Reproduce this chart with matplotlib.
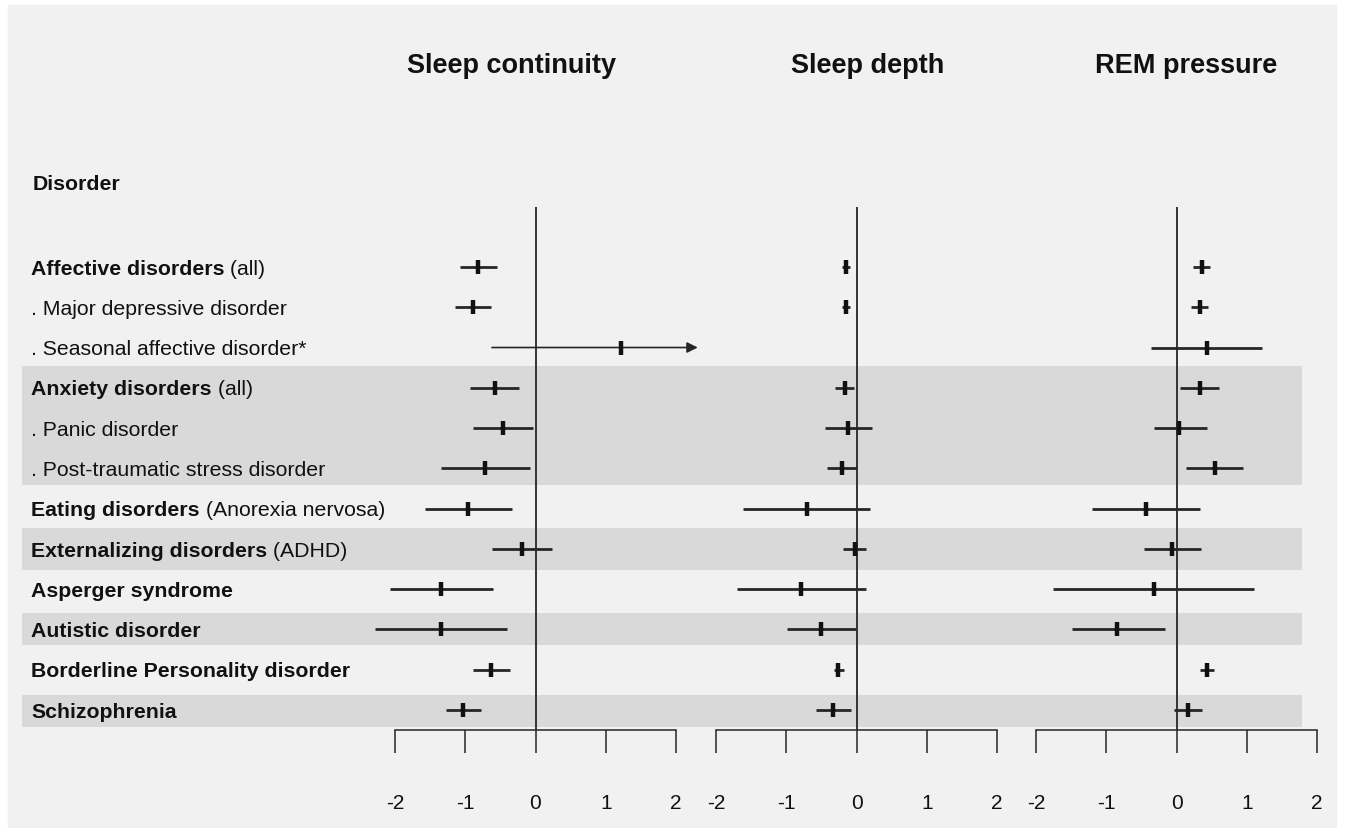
"""Forest plot: sleep continuity / depth / REM pressure per disorder (effect sizes with CI)."""

import matplotlib

matplotlib.use("Agg")
import matplotlib.pyplot as plt
import numpy as np
from matplotlib.patches import Rectangle

plt.rcParams["font.family"] = ["Liberation Sans", "DejaVu Sans"]
plt.rcParams["axes.unicode_minus"] = False  # tick labels use a plain hyphen as in the original

nan = np.nan

# row labels: bold part + regular part
label_bold = [
    "Affective disorders", "", "", "Anxiety disorders", "", "",
    "Eating disorders", "Externalizing disorders", "Asperger syndrome",
    "Autistic disorder", "Borderline Personality disorder", "Schizophrenia",
]
label_normal = [
    " (all)", ". Major depressive disorder", ". Seasonal affective disorder*",
    " (all)", ". Panic disorder", ". Post-traumatic stress disorder",
    " (Anorexia nervosa)", " (ADHD)", "", "", "", "",
]

# shaded row groups (first row, last row)
band_first = [3, 7, 9, 11]
band_last = [5, 7, 9, 11]

panel_titles = ["Sleep continuity", "Sleep depth", "REM pressure"]

continuity_est = [-0.82, -0.89, 1.22, -0.58, -0.46, -0.72, -0.96, -0.19, -1.34, -1.34, -0.63, -1.03]
continuity_lo = [-1.08, -1.14, -0.62, -0.93, -0.89, -1.35, -1.58, -0.62, -2.07, -2.28, -0.89, -1.27]
continuity_hi = [-0.55, -0.64, 2.31, -0.23, -0.03, -0.08, -0.34, 0.23, -0.61, -0.40, -0.37, -0.77]

depth_est = [-0.15, -0.15, nan, -0.17, -0.12, -0.21, -0.70, -0.02, -0.79, -0.50, -0.26, -0.33]
depth_lo = [-0.20, -0.20, nan, -0.31, -0.45, -0.42, -1.61, -0.19, -1.70, -0.99, -0.32, -0.58]
depth_hi = [-0.09, -0.09, nan, -0.03, 0.22, 0.01, 0.19, 0.14, 0.13, -0.01, -0.18, -0.08]

rem_est = [0.36, 0.33, 0.43, 0.33, 0.04, 0.55, -0.44, -0.06, -0.32, -0.84, 0.44, 0.17]
rem_lo = [0.23, 0.21, -0.37, 0.05, -0.32, 0.14, -1.20, -0.46, -1.76, -1.49, 0.34, -0.04]
rem_hi = [0.48, 0.45, 1.22, 0.61, 0.43, 0.95, 0.34, 0.35, 1.11, -0.17, 0.53, 0.37]

x_ticks = [-2, -1, 0, 1, 2]

W, H = 1346, 829
INK = "#262626"
BAND = "#d9d9d9"
PANEL_BG = "#f1f1f1"
YLIM = (11.5, -1.49)
LABEL_SIZE = 15.3


def fx(px):
    return px / W


def fy(py):
    return 1 - py / H


fig = plt.figure(figsize=(W / 100, H / 100), dpi=100, facecolor="white")
fig.patches.append(
    Rectangle((fx(8), fy(828)), fx(1336 - 8), (828 - 6) / H,
              transform=fig.transFigure, color=PANEL_BG, zorder=-5)
)

# background axes for the shaded bands and row labels
bg = fig.add_axes([fx(22), fy(731), fx(1302 - 22), (731 - 208) / H])
bg.set_xlim(0, 1)
bg.set_ylim(*YLIM)
bg.axis("off")
band_pad_top = [0.53, 0.52, 0.41, 0.38]
band_pad_bot = [0.41, 0.52, 0.38, 0.42]
for first, last, pt, pb in zip(band_first, band_last, band_pad_top, band_pad_bot):
    bg.axhspan(first - pt, last + pb, color=BAND, lw=0, zorder=0)

label_x = (31 - 22) / (1302 - 22)
for i, (b, n) in enumerate(zip(label_bold, label_normal)):
    if b:
        t = bg.text(label_x, i + 0.03, b, fontsize=LABEL_SIZE, fontweight="bold",
                    color="#111111", ha="left", va="center")
        if n:
            bg.annotate(n, xy=(1, 0), xycoords=t, fontsize=LABEL_SIZE, color="#111111",
                        ha="left", va="bottom")
    else:
        bg.text(label_x, i + 0.03, n, fontsize=LABEL_SIZE, color="#111111",
                ha="left", va="center")

fig.text(fx(33), fy(184), "Disorder", fontsize=LABEL_SIZE, fontweight="bold",
         color="#111111", ha="left", va="center")

panels = [
    (continuity_est, continuity_lo, continuity_hi),
    (depth_est, depth_lo, depth_hi),
    (rem_est, rem_lo, rem_hi),
]
panel_left = [395, 716, 1036]
title_x = [512, 868, 1186]

for (est, lo, hi), left, title, tx in zip(panels, panel_left, panel_titles, title_x):
    ax = fig.add_axes([fx(left), fy(731), fx(281), (731 - 208) / H])
    ax.patch.set_visible(False)
    ax.set_xlim(-2, 2)
    ax.set_ylim(*YLIM)
    for side in ("top", "left", "right"):
        ax.spines[side].set_visible(False)
    ax.spines["bottom"].set_color(INK)
    ax.spines["bottom"].set_linewidth(1.1)
    ax.set_xticks(x_ticks)
    ax.set_xticklabels([str(v) for v in x_ticks])
    ax.set_yticks([])
    ax.tick_params(axis="x", direction="out", length=16.5, width=1.1, color=INK,
                   pad=29, labelsize=15, labelcolor="#111111")
    ax.axvline(0, color=INK, lw=1.3, zorder=1)

    for i in range(len(est)):
        if np.isnan(est[i]):
            continue
        if hi[i] > 2:
            ax.annotate("", xy=(hi[i], i), xytext=(lo[i], i), annotation_clip=False,
                        arrowprops=dict(arrowstyle="-|>", color=INK, lw=1.2,
                                        mutation_scale=16, shrinkA=0, shrinkB=0))
        else:
            ax.plot([lo[i], hi[i]], [i, i], color=INK, lw=2.0,
                    solid_capstyle="butt", clip_on=False, zorder=3)
        ax.plot(est[i], i, marker="|", ms=10.5, mew=3.2, color="#111111",
                clip_on=False, zorder=4)

    fig.text(fx(tx), fy(66), title, fontsize=19.5, fontweight="bold", color="#111111",
             ha="center", va="center")

fig.savefig("out.png", dpi=100)
plt.close(fig)
